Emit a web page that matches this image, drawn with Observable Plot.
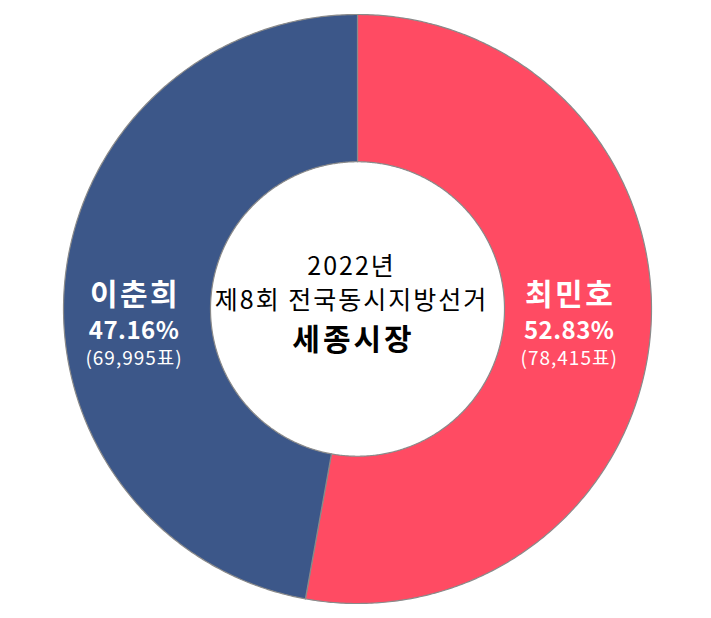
<!DOCTYPE html>
<html>
<head>
<meta charset="utf-8">
<script src="https://cdn.jsdelivr.net/npm/d3@7"></script>
<script src="https://cdn.jsdelivr.net/npm/@observablehq/plot@0.6"></script>
<style>
  html, body { margin: 0; padding: 0; background: #fff; }
  #chart svg { display: block; font-family: "Noto Sans CJK KR", "Noto Sans", sans-serif; }
</style>
</head>
<body>
<div id="chart"></div>
<script>
// Data
const candidates = ["최민호", "이춘희"];
const shares = [52.83, 47.16];
const votes = ["78,415", "69,995"];
const colors = ["#ff4b63", "#3c5789"];
const titleLines = ["2022년", "제8회 전국동시지방선거", "세종시장"];

const innerR = 0.5, outerR = 1;
const pie = d3.pie().sort(null).value(d => d.share).startAngle(0).endAngle(2 * Math.PI);
const rows = candidates.map((name, i) => ({name, share: shares[i], votes: votes[i]}));
const arcs = pie(rows);

// polygon outline of each ring slice (geometry derived from the data angles)
const ringPoints = [];
for (const a of arcs) {
  const n = Math.max(2, Math.ceil((a.endAngle - a.startAngle) / (Math.PI / 360)));
  for (let k = 0; k <= n; k++) {
    const t = a.startAngle + (a.endAngle - a.startAngle) * k / n;
    ringPoints.push({name: a.data.name, x: outerR * Math.sin(t), y: outerR * Math.cos(t)});
  }
  for (let k = n; k >= 0; k--) {
    const t = a.startAngle + (a.endAngle - a.startAngle) * k / n;
    ringPoints.push({name: a.data.name, x: innerR * Math.sin(t), y: innerR * Math.cos(t)});
  }
}

const labels = arcs.map(a => {
  const mid = (a.startAngle + a.endAngle) / 2;
  const side = Math.sin(mid) >= 0 ? 1 : -1;
  return {...a.data, x: side * (side > 0 ? 0.72 : 0.76), y: 0};
});

const chart = Plot.plot({
  width: 711,
  height: 618,
  marginLeft: 63,
  marginRight: 60,
  marginTop: 14,
  marginBottom: 15,
  x: {domain: [-1, 1], axis: null},
  y: {domain: [-1, 1], axis: null},
  color: {domain: candidates, range: colors},
  marks: [
    Plot.line(ringPoints, {x: "x", y: "y", z: "name", fill: "name", stroke: "#8a8a8a", strokeWidth: 1.2, curve: "linear-closed"}),
    Plot.text(labels, {x: "x", y: "y", text: "name", fill: "white", fontSize: 30, fontWeight: "bold", dy: -14, dx: 1}),
    Plot.text(labels, {x: "x", y: "y", text: d => d.share.toFixed(2) + "%", fill: "white", fontSize: 24, fontWeight: "bold", dy: 22}),
    Plot.text(labels, {x: "x", y: "y", text: d => "(" + d.votes + "표)", fill: "white", fontSize: 19, dy: 50}),
    Plot.text([titleLines[0]], {x: () => 0, y: () => 0, text: d => d, fill: "black", fontSize: 25, dy: -42, dx: -6}),
    Plot.text([titleLines[1]], {x: () => 0, y: () => 0, text: d => d, fill: "black", fontSize: 25, dy: -8, dx: -6}),
    Plot.text([titleLines[2]], {x: () => 0, y: () => 0, text: d => d, fill: "black", fontSize: 30, fontWeight: "bold", dy: 31, dx: -4})
  ]
});
// letter spacing per text mark (style only)
const spacing = ["2.5px", "0.5px", "1px", "2px", "2px", "3px"];
chart.querySelectorAll('g[aria-label="text"]').forEach((g, i) => {
  if (spacing[i]) g.style.letterSpacing = spacing[i];
});
document.getElementById("chart").appendChild(chart);
</script>
</body>
</html>
